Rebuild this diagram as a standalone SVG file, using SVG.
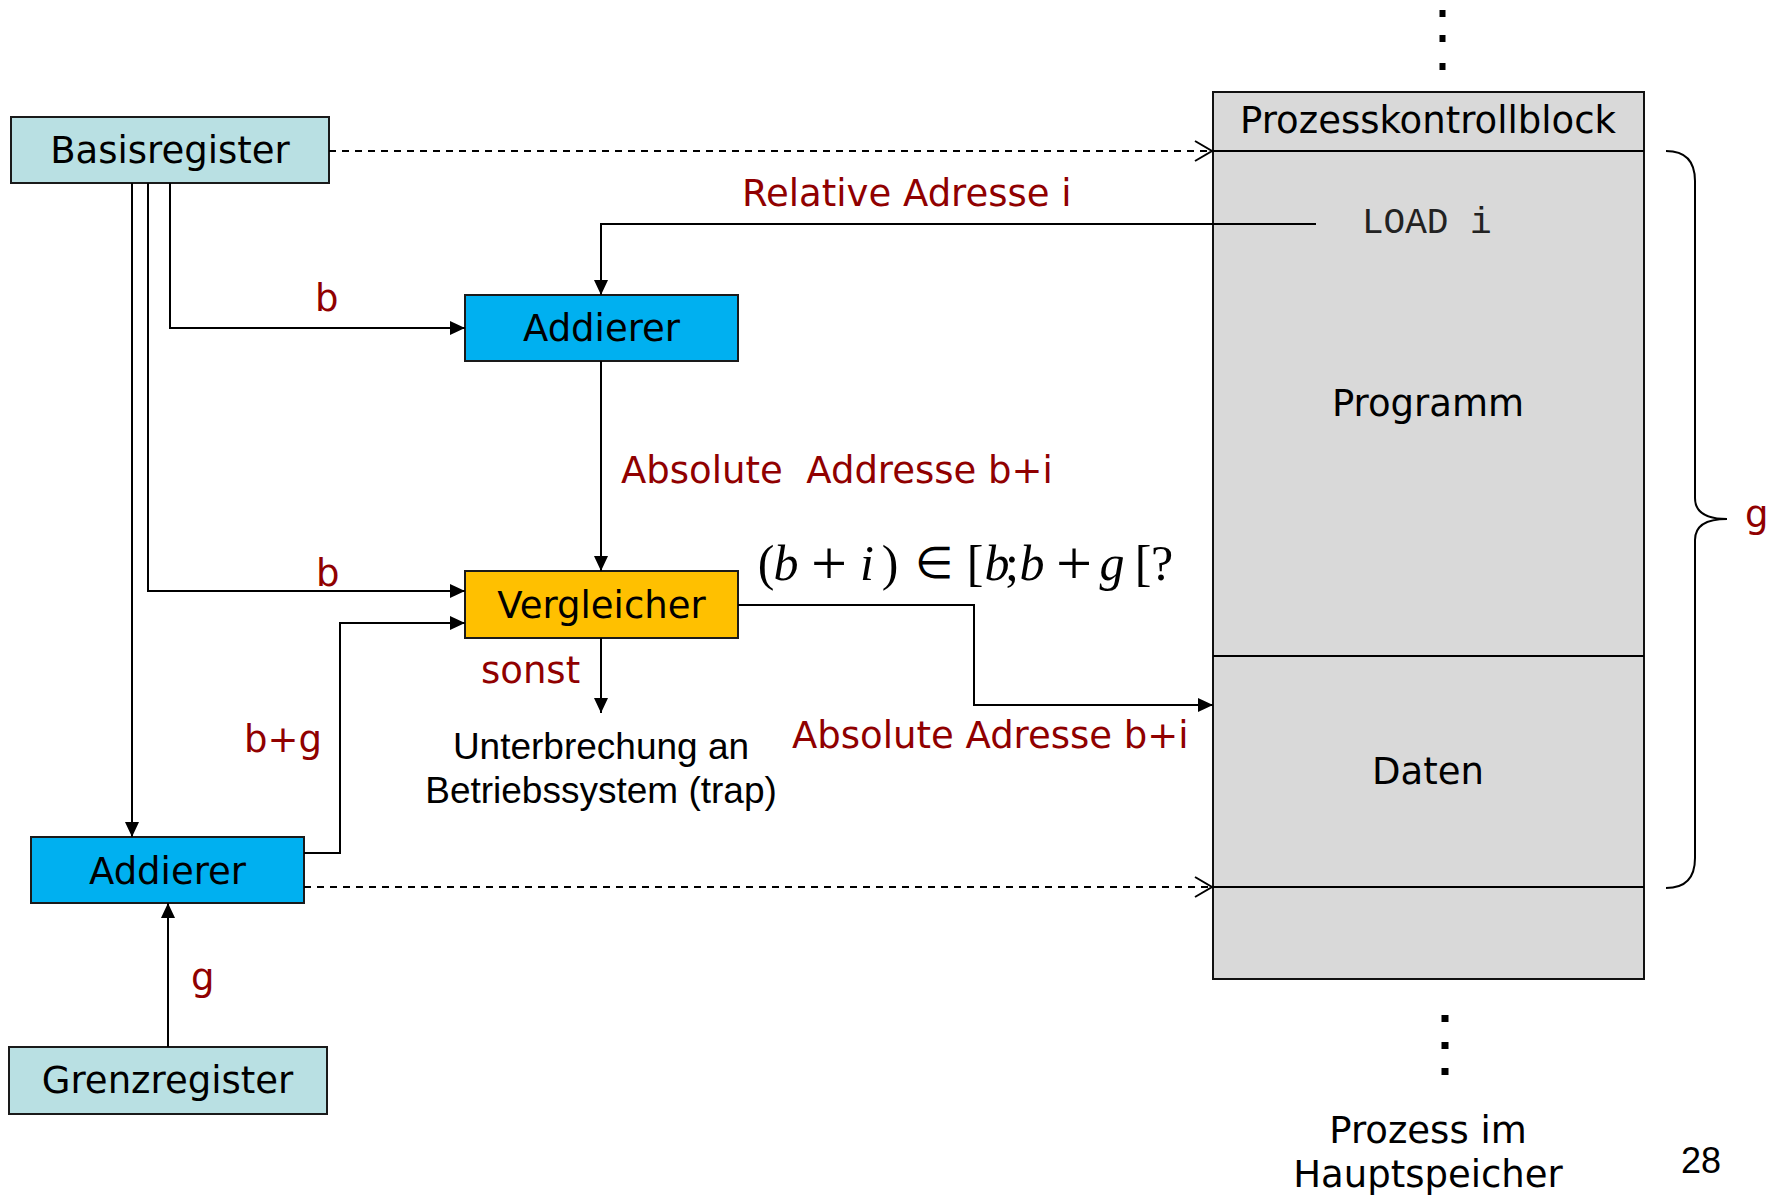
<svg xmlns="http://www.w3.org/2000/svg" width="1767" height="1195" viewBox="0 0 1767 1195">
<style>
.box{stroke:#1a1a1a;stroke-width:2}
.reg{fill:#B9E0E3}
.add{fill:#00B0F0}
.cmp{fill:#FFC000}
.mem{fill:#D9D9D9;stroke:#111;stroke-width:2}
.t{font-family:"DejaVu Sans",Verdana,sans-serif;font-size:37px;fill:#000}
.c{text-anchor:middle}
.r{fill:#900000}
.a{font-family:"Liberation Sans",Arial,sans-serif;font-size:37px;fill:#000}
.m{font-family:"Liberation Serif","Times New Roman",serif;font-size:50px;fill:#000;text-anchor:middle}
.it{font-style:italic}
.pl{font-size:64px}
.ln{fill:none;stroke:#000;stroke-width:2}
.dash{fill:none;stroke:#000;stroke-width:2;stroke-dasharray:7 6}
</style>
<defs>
<marker id="arr" markerUnits="userSpaceOnUse" markerWidth="16" markerHeight="16" refX="15" refY="7" orient="auto">
<path d="M0,0 L15,7 L0,14 z" fill="#000"/>
</marker>
<marker id="chev" markerUnits="userSpaceOnUse" markerWidth="20" markerHeight="22" refX="18" refY="11" orient="auto">
<path d="M1,1 L18,11 L1,21" fill="none" stroke="#000" stroke-width="2"/>
</marker>
</defs>

<g id="memory">
<rect class="mem" x="1213" y="92" width="431" height="887"/>
<line class="ln" x1="1213" y1="151" x2="1644" y2="151"/>
<line class="ln" x1="1213" y1="656" x2="1644" y2="656"/>
<line class="ln" x1="1213" y1="887" x2="1644" y2="887"/>
<text class="t c" x="1428" y="133">Prozesskontrollblock</text>
<text x="1362" y="233" style="font-family:'Liberation Mono','Courier New',monospace;font-size:36px;fill:#222">LOAD i</text>
<text class="t c" x="1428" y="416">Programm</text>
<text class="t c" x="1428" y="784">Daten</text>
<rect x="1439.5" y="10" width="6" height="7" fill="#000"/>
<rect x="1439.5" y="35" width="6" height="7" fill="#000"/>
<rect x="1439.5" y="63" width="6" height="7" fill="#000"/>
<rect x="1441.5" y="1015" width="7" height="7" fill="#000"/>
<rect x="1441.5" y="1042" width="7" height="7" fill="#000"/>
<rect x="1441.5" y="1068" width="7" height="7" fill="#000"/>
<text class="t c" x="1428" y="1143">Prozess im</text>
<text class="t c" x="1428" y="1187">Hauptspeicher</text>
<path class="ln" d="M1666,151 Q1695,151 1695,181 L1695,498 Q1695,519 1727,519 Q1695,519 1695,540 L1695,858 Q1695,888 1666,888"/>
<text class="t r" x="1745" y="527">g</text>
</g>

<g id="basisregister">
<rect class="box reg" x="11" y="117" width="318" height="66"/>
<text class="t c" x="170" y="163">Basisregister</text>
</g>

<g id="addierer1">
<rect class="box add" x="465" y="295" width="273" height="66"/>
<text class="t c" x="601.5" y="341">Addierer</text>
</g>

<g id="vergleicher">
<rect class="box cmp" x="465" y="571" width="273" height="67"/>
<text class="t c" x="601.5" y="618">Vergleicher</text>
</g>

<g id="addierer2">
<rect class="box add" x="31" y="837" width="273" height="66"/>
<text class="t c" x="167.5" y="884">Addierer</text>
</g>

<g id="grenzregister">
<rect class="box reg" x="9" y="1047" width="318" height="67"/>
<text class="t c" x="167.5" y="1093">Grenzregister</text>
</g>

<g id="trap">
<text class="a c" x="601" y="759">Unterbrechung an</text>
<text class="a c" x="601" y="803">Betriebssystem (trap)</text>
</g>

<g id="connectors">
<path class="ln" d="M170,183 V328 H465" marker-end="url(#arr)"/>
<path class="ln" d="M148,183 V591 H465" marker-end="url(#arr)"/>
<path class="ln" d="M132,183 V837" marker-end="url(#arr)"/>
<path class="ln" d="M1316,224 H601 V295" marker-end="url(#arr)"/>
<path class="ln" d="M601,361 V571" marker-end="url(#arr)"/>
<path class="ln" d="M304,853 H340 V623 H465" marker-end="url(#arr)"/>
<path class="ln" d="M601,638 V713" marker-end="url(#arr)"/>
<path class="ln" d="M738,605 H974 V705 H1213" marker-end="url(#arr)"/>
<path class="ln" d="M168,1047 V903" marker-end="url(#arr)"/>
<path class="dash" d="M329,151 H1212" marker-end="url(#chev)"/>
<path class="dash" d="M304,887 H1212" marker-end="url(#chev)"/>
<text class="t r" x="742" y="206">Relative Adresse i</text>
<text class="t r" x="315" y="311">b</text>
<text class="t r" x="316" y="586">b</text>
<text class="t r" x="621" y="483" xml:space="preserve">Absolute  Addresse b+i</text>
<text class="t r" x="792" y="748">Absolute Adresse b+i</text>
<text class="t r" x="481" y="683">sonst</text>
<text class="t r" x="244" y="752">b+g</text>
<text class="t r" x="191" y="990">g</text>
</g>

<g id="formula">
<text class="m" y="580"><tspan x="766">(</tspan><tspan class="it" x="786">b</tspan><tspan class="pl" x="829" y="585">+</tspan><tspan class="it" x="867" y="580">i</tspan><tspan x="890">)</tspan><tspan x="934" y="578" style="font-size:44px">∈</tspan><tspan x="975" y="580">[</tspan><tspan class="it" x="997">b</tspan><tspan x="1012">;</tspan><tspan class="it" x="1032">b</tspan><tspan class="pl" x="1074" y="585">+</tspan><tspan class="it" x="1112" y="580">g</tspan><tspan x="1143">[</tspan><tspan x="1162">?</tspan></text>
</g>

<text x="1681" y="1173" style="font-family:'Liberation Sans',Arial,sans-serif;font-size:36px;fill:#000">28</text>
</svg>
